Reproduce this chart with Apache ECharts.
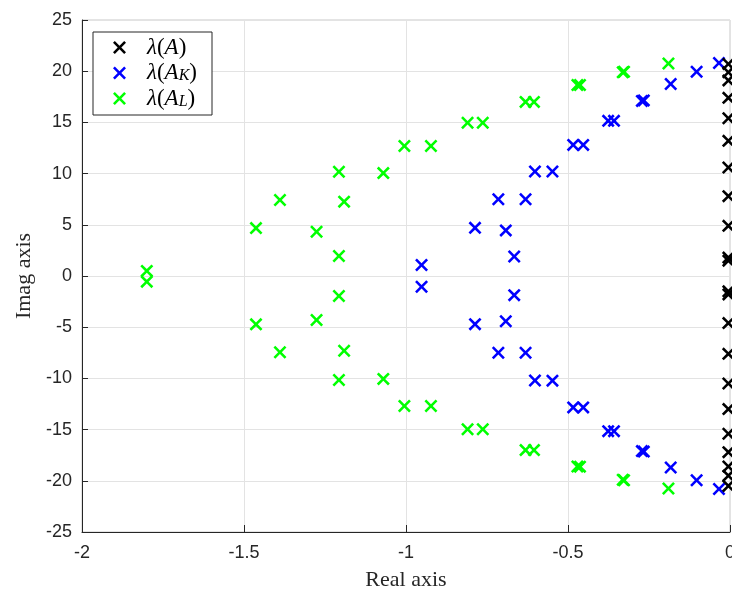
<!DOCTYPE html>
<html>
<head>
<meta charset="utf-8">
<script src="https://cdn.jsdelivr.net/npm/echarts@6/dist/echarts.min.js"></script>
<style>
  html, body { margin: 0; padding: 0; background: #fff; }
  #chart { width: 732px; height: 592px; }
</style>
</head>
<body>
<div id="chart"></div>
<script>
// Eigenvalues of the open-loop matrix A (real part, imaginary part)
const eigA_re = [-0.005, -0.005, -0.005, -0.005, -0.005, -0.005, -0.005, -0.005, -0.005, -0.005, -0.005,
                 -0.005, -0.005, -0.005, -0.005, -0.005, -0.005, -0.005, -0.005, -0.005, -0.005, -0.005];
const eigA_im = [20.7, 19.9, 19.1, 17.4, 15.4, 13.2, 10.6, 7.8, 4.9, 1.8, 1.5,
                 -1.5, -1.8, -4.6, -7.6, -10.5, -13.0, -15.4, -17.2, -18.6, -19.5, -20.5];

// Eigenvalues of A_K (state feedback)
const eigAK_re = [-0.034, -0.103, -0.183, -0.272, -0.266, -0.376, -0.358, -0.484, -0.453, -0.548, -0.602,
                  -0.631, -0.715, -0.692, -0.787, -0.666, -0.952,
                  -0.034, -0.103, -0.183, -0.272, -0.266, -0.376, -0.358, -0.484, -0.453, -0.548, -0.602,
                  -0.631, -0.715, -0.692, -0.787, -0.666, -0.952];
const eigAK_im = [20.8, 19.95, 18.75, 17.1, 17.15, 15.15, 15.15, 12.8, 12.8, 10.2, 10.2,
                  7.5, 7.5, 4.45, 4.7, 1.9, 1.07,
                  -20.8, -19.95, -18.7, -17.1, -17.15, -15.15, -15.15, -12.83, -12.83, -10.22, -10.2,
                  -7.5, -7.5, -4.42, -4.7, -1.87, -1.05];

// Eigenvalues of A_L (observer)
const eigAL_re = [-1.80, -1.463, -1.389, -1.276, -1.207, -1.191, -1.207, -1.07, -1.005, -0.923,
                  -0.81, -0.763, -0.631, -0.605, -0.471, -0.463, -0.331, -0.327, -0.19,
                  -1.80, -1.463, -1.389, -1.276, -1.207, -1.191, -1.207, -1.07, -1.005, -0.923,
                  -0.81, -0.763, -0.631, -0.605, -0.471, -0.463, -0.331, -0.327, -0.19];
const eigAL_im = [0.5, 4.68, 7.42, 4.32, 10.18, 7.26, 1.95, 10.05, 12.7, 12.7,
                  14.97, 14.97, 17.0, 17.0, 18.65, 18.65, 19.9, 19.95, 20.75,
                  -0.55, -4.72, -7.45, -4.3, -10.16, -7.3, -1.95, -10.05, -12.7, -12.7,
                  -14.97, -14.97, -17.0, -17.0, -18.6, -18.62, -19.9, -19.95, -20.75];

const xTicks = [-2, -1.5, -1, -0.5, 0];
const yTicks = [-25, -20, -15, -10, -5, 0, 5, 10, 15, 20, 25];

const seriesNames = ['λ(A)', 'λ(A_K)', 'λ(A_L)'];
const seriesColors = ['#000000', '#0000ff', '#00ff00'];

function pairs(re, im) { return re.map((r, i) => [r, im[i]]); }

// filled "x" marker
const t = 1.4;
const cross = 'path://M' + t + ',0L5,' + (5 - t) + 'L' + (10 - t) + ',0L10,' + t + 'L' + (5 + t) + ',5L10,' + (10 - t) +
  'L' + (10 - t) + ',10L5,' + (5 + t) + 'L' + t + ',10L0,' + (10 - t) + 'L' + (5 - t) + ',5L0,' + t + 'Z';

const chart = echarts.init(document.getElementById('chart'), null, { renderer: 'canvas' });

function scatter(idx, data, z) {
  return {
    name: seriesNames[idx],
    type: 'scatter',
    data: data,
    symbol: cross,
    symbolSize: 13,
    symbolKeepAspect: true,
    itemStyle: { color: seriesColors[idx], opacity: 1 },
    emphasis: { disabled: true },
    z: z,
    clip: false
  };
}

const tickFont = { fontFamily: 'Liberation Sans, Arial, sans-serif', fontSize: 18, color: '#262626' };
const serif = 'Liberation Serif, Times New Roman, serif';

chart.setOption({
  animation: false,
  backgroundColor: '#ffffff',
  grid: {
    left: 82, right: 2, top: 20, bottom: 60,
    outerBoundsMode: 'none',
    show: true, borderColor: '#c8c8c8', borderWidth: 1, backgroundColor: 'transparent'
  },
  legend: {
    data: seriesNames,
    orient: 'vertical',
    left: 93, top: 32,
    padding: [4, 15, 5, 20],
    itemWidth: 13, itemHeight: 13, itemGap: 1,
    backgroundColor: '#ffffff',
    borderColor: '#262626', borderWidth: 1,
    selectedMode: false,
    formatter: function (name) {
      const m = name.match(/^λ\(A(?:_(\w))?\)$/);
      const sub = m && m[1] ? '{sub|' + m[1] + '}' : '';
      return '{gap|}{it|λ}{rm|(}{it|A}' + sub + '{rm|)}';
    },
    textStyle: {
      fontFamily: serif, fontSize: 23, lineHeight: 22, color: '#000',
      rich: {
        gap: { width: 16, lineHeight: 22 },
        it: { fontFamily: serif, fontStyle: 'italic', fontSize: 23, lineHeight: 22, color: '#000' },
        rm: { fontFamily: serif, fontSize: 23, lineHeight: 22, color: '#000' },
        sub: { fontFamily: serif, fontStyle: 'italic', fontSize: 16, lineHeight: 14, color: '#000',
               verticalAlign: 'bottom', padding: [8, 0, 0, 0] }
      }
    }
  },
  xAxis: {
    type: 'value',
    min: xTicks[0], max: xTicks[xTicks.length - 1], interval: 0.5,
    name: 'Real axis', nameLocation: 'middle', nameGap: 37,
    nameTextStyle: { fontFamily: serif, fontSize: 22, color: '#262626' },
    axisLine: { show: true, onZero: false, lineStyle: { color: '#262626', width: 1 } },
    axisTick: { show: true, inside: true, length: 7, lineStyle: { color: '#262626' } },
    axisLabel: Object.assign({ margin: 12, formatter: v => String(v) }, tickFont),
    splitLine: { show: true, lineStyle: { color: '#e3e3e3', width: 1 } }
  },
  yAxis: {
    type: 'value',
    min: yTicks[0], max: yTicks[yTicks.length - 1], interval: 5,
    name: 'Imag axis', nameLocation: 'middle', nameGap: 33, nameRotate: 90,
    nameTextStyle: { fontFamily: serif, fontSize: 22, color: '#262626' },
    axisLine: { show: true, onZero: false, lineStyle: { color: '#262626', width: 1 } },
    axisTick: { show: true, inside: true, length: 6, lineStyle: { color: '#262626' } },
    axisLabel: Object.assign({ margin: 10, formatter: v => String(v) }, tickFont),
    splitLine: { show: true, lineStyle: { color: '#e3e3e3', width: 1 } }
  },
  series: [
    scatter(1, pairs(eigAK_re, eigAK_im), 2),
    scatter(2, pairs(eigAL_re, eigAL_im), 3),
    scatter(0, pairs(eigA_re, eigA_im), 4)
  ]
});
</script>
</body>
</html>
